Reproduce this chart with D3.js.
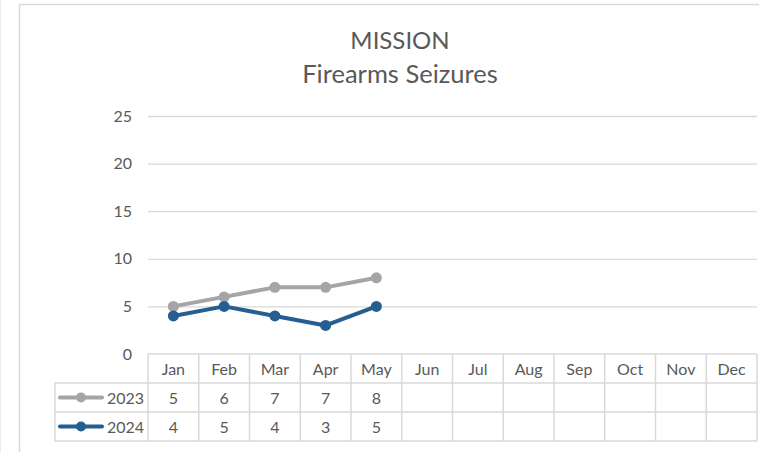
<!DOCTYPE html>
<html>
<head>
<meta charset="utf-8">
<script src="https://cdn.jsdelivr.net/npm/d3@7"></script>
<style>
  body { margin: 0; background: #fff; }
  svg { display: block; font-family: Lato, "Open Sans", sans-serif; }
</style>
</head>
<body>
<svg id="chart" width="759" height="452"></svg>
<script>
const months = ['Jan', 'Feb', 'Mar', 'Apr', 'May', 'Jun', 'Jul', 'Aug', 'Sep', 'Oct', 'Nov', 'Dec'];
const values2023 = [5, 6, 7, 7, 8];
const values2024 = [4, 5, 4, 3, 5];
const yTicks = [0, 5, 10, 15, 20, 25];

const series = [
  {name: '2023', values: values2023, color: '#a5a5a5'},
  {name: '2024', values: values2024, color: '#255e91'}
];

const svg = d3.select('#chart');
const textColor = '#595959';
const gridColor = '#d9d9d9';

// chart frame
svg.append('line').attr('x1', 0.5).attr('x2', 0.5).attr('y1', 0).attr('y2', 452)
  .attr('stroke', '#ececec');
svg.append('path').attr('d', 'M19.5,452V4.5H759')
  .attr('fill', 'none').attr('stroke', gridColor).attr('stroke-width', 1.5);

// titles
svg.append('text').attr('x', 400).attr('y', 49).attr('text-anchor', 'middle')
  .attr('fill', textColor).style('font-size', '24px').text('MISSION');
svg.append('text').attr('x', 400).attr('y', 83).attr('text-anchor', 'middle')
  .attr('fill', textColor).style('font-size', '25.5px').text('Firearms Seizures');

const plot = {left: 148, right: 757, top: 116, bottom: 354};

const x = d3.scaleBand().domain(months).range([plot.left, plot.right]);
const y = d3.scaleLinear().domain([0, 25]).range([plot.bottom, plot.top]);

// gridlines + y labels
const yAxis = d3.axisLeft(y).tickValues(yTicks).tickSize(-(plot.right - plot.left)).tickPadding(16);
const gy = svg.append('g').attr('transform', `translate(${plot.left},0)`).call(yAxis);
gy.select('.domain').remove();
gy.selectAll('.tick line').attr('stroke', gridColor).attr('stroke-width', 1.3)
  .filter(d => d === 0).remove();
gy.selectAll('.tick text').attr('fill', textColor).style('font-size', '16px')
  .style('font-family', 'Lato, sans-serif');

// data table
const rowH = 29;
const tableTop = plot.bottom;
const legendLeft = 55;
const tbl = svg.append('g').attr('stroke', gridColor).attr('stroke-width', 1.5).attr('fill', 'none');

// horizontal lines
tbl.append('line').attr('x1', plot.left).attr('x2', plot.right).attr('y1', tableTop).attr('y2', tableTop);
[1, 2, 3].forEach(i => {
  tbl.append('line').attr('x1', legendLeft).attr('x2', plot.right)
    .attr('y1', tableTop + i * rowH).attr('y2', tableTop + i * rowH);
});
// vertical lines
tbl.append('line').attr('x1', legendLeft).attr('x2', legendLeft)
  .attr('y1', tableTop + rowH).attr('y2', tableTop + 3 * rowH);
months.forEach(m => {
  tbl.append('line').attr('x1', x(m)).attr('x2', x(m))
    .attr('y1', tableTop).attr('y2', tableTop + 3 * rowH);
});
tbl.append('line').attr('x1', plot.right).attr('x2', plot.right)
  .attr('y1', tableTop).attr('y2', tableTop + 3 * rowH);

// month header
svg.append('g').selectAll('text').data(months).join('text')
  .attr('x', d => x(d) + x.bandwidth() / 2)
  .attr('y', tableTop + rowH / 2 + 6)
  .attr('text-anchor', 'middle').attr('fill', textColor).style('font-size', '16px')
  .text(d => d);

// series rows
series.forEach((s, i) => {
  const cy = tableTop + (i + 1) * rowH + rowH / 2;
  const g = svg.append('g');
  g.append('line').attr('x1', 60).attr('x2', 102).attr('y1', cy).attr('y2', cy)
    .attr('stroke', s.color).attr('stroke-width', 4).attr('stroke-linecap', 'round');
  g.append('circle').attr('cx', 81).attr('cy', cy).attr('r', 5).attr('fill', s.color);
  g.append('text').attr('x', 144).attr('y', cy + 6).attr('text-anchor', 'end')
    .attr('fill', textColor).style('font-size', '16px').text(s.name);
  g.selectAll('text.v').data(s.values).join('text').attr('class', 'v')
    .attr('x', (d, j) => x(months[j]) + x.bandwidth() / 2)
    .attr('y', cy + 6)
    .attr('text-anchor', 'middle').attr('fill', textColor).style('font-size', '16px')
    .text(d => d);
});

// lines
const line = d3.line()
  .x((d, j) => x(months[j]) + x.bandwidth() / 2)
  .y(d => y(d));

series.forEach(s => {
  svg.append('path').datum(s.values).attr('d', line)
    .attr('fill', 'none').attr('stroke', s.color).attr('stroke-width', 4)
    .attr('stroke-linejoin', 'round').attr('stroke-linecap', 'round');
  svg.append('g').selectAll('circle').data(s.values).join('circle')
    .attr('cx', (d, j) => x(months[j]) + x.bandwidth() / 2)
    .attr('cy', d => y(d)).attr('r', 5.5).attr('fill', s.color);
});
</script>
</body>
</html>
